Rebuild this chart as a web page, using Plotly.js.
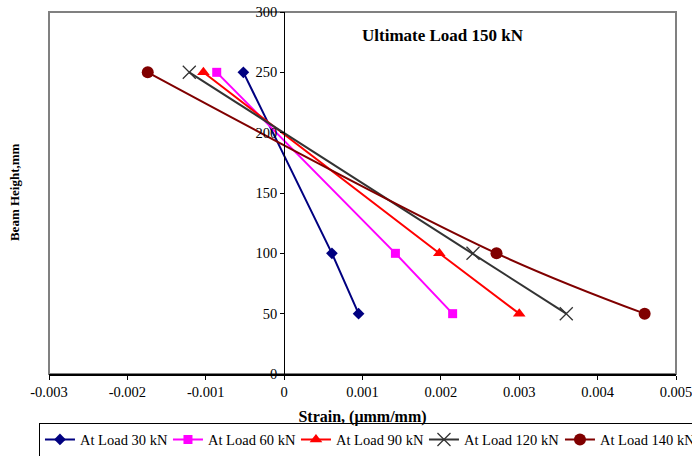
<!DOCTYPE html>
<html>
<head>
<meta charset="utf-8">
<script src="https://cdn.plot.ly/plotly-3.0.1.min.js"></script>
<style>
  html, body { margin: 0; padding: 0; background: #ffffff; }
  #chart { width: 692px; height: 456px; }
</style>
</head>
<body>
<div id="chart"></div>
<script>
// Measured beam heights (mm) at the three strain gauge levels
const beamHeights = [250, 100, 50];

// Strain readings (mm/mm) at each load stage
const strain30 = [-0.00052, 0.00061, 0.00095];
const strain60 = [-0.00086, 0.00142, 0.00215];
const strain90 = [-0.00103, 0.00198, 0.00300];
const strain120 = [-0.00121, 0.00241, 0.00360];
const strain140 = [-0.00174, 0.00271, 0.00460];

const seriesNames = ['At Load 30 kN', 'At Load 60 kN', 'At Load 90 kN', 'At Load 120 kN', 'At Load 140 kN'];

// Axis ticks
const xTickVals = [-0.003, -0.002, -0.001, 0, 0.001, 0.002, 0.003, 0.004, 0.005];
const xTickText = ['-0.003', '-0.002', '-0.001', '0', '0.001', '0.002', '0.003', '0.004', '0.005'];
const yTickVals = [0, 50, 100, 150, 200, 250, 300];

const serif = 'Liberation Serif, Times New Roman, serif';

function series(x, name, color, symbol, size, legendWidth, extraLine, extraMarker) {
  const t = {
    type: 'scatter',
    mode: 'lines+markers',
    x: x,
    y: beamHeights,
    name: name,
    line: Object.assign({ color: color, width: 2 }, extraLine || {}),
    marker: Object.assign({ color: color, symbol: symbol, size: size }, extraMarker || {}),
    cliponaxis: false
  };
  if (legendWidth) t.legendwidth = legendWidth;
  return t;
}

const traces = [
  series(strain30, seriesNames[0], '#000080', 'diamond', 9),
  series(strain60, seriesNames[1], '#FF00FF', 'square', 9),
  series(strain90, seriesNames[2], '#FF0000', 'triangle-up', 11),
  series(strain120, seriesNames[3], '#333333', 'x-thin-open', 13, 91, null,
         { line: { color: '#333333', width: 1.3 } }),
  series(strain140, seriesNames[4], '#800000', 'circle', 12, 89,
         { shape: 'spline', smoothing: 1 })
];

// x = 0 sits at this fraction of the plot width
const xMin = -0.003, xMax = 0.005;
const yAxisPos = (0 - xMin) / (xMax - xMin);

const layout = {
  width: 692,
  height: 456,
  margin: { l: 49, r: 16, t: 12, b: 82, autoexpand: false },
  paper_bgcolor: '#ffffff',
  plot_bgcolor: '#ffffff',
  font: { family: serif, size: 14.5, color: '#000000' },
  showlegend: true,
  xaxis: {
    range: [xMin, xMax],
    tickvals: xTickVals,
    ticktext: xTickText,
    showgrid: false,
    zeroline: false,
    showline: true,
    linecolor: '#000000',
    linewidth: 1.5,
    ticks: 'outside',
    ticklen: 4,
    tickcolor: '#000000',
    tickfont: { family: serif, size: 14.5 },
    ticklabeloverflow: 'allow',
    automargin: false,
    title: {
      text: '<b>Strain, (μmm/mm)</b>',
      font: { family: serif, size: 16 },
      standoff: 12
    }
  },
  yaxis: {
    range: [0, 300],
    tickvals: yTickVals,
    showgrid: false,
    zeroline: false,
    showline: true,
    linecolor: '#000000',
    linewidth: 1.2,
    ticks: 'outside',
    ticklen: 4,
    tickcolor: '#000000',
    tickfont: { family: serif, size: 14.5 },
    anchor: 'free',
    position: yAxisPos,
    automargin: false
  },
  shapes: [
    {
      type: 'rect', xref: 'paper', yref: 'paper',
      x0: 0, x1: 1, y0: 0, y1: 1,
      line: { color: '#808080', width: 2 },
      layer: 'below'
    }
  ],
  annotations: [
    {
      text: '<b>Ultimate Load 150 kN</b>',
      xref: 'paper', yref: 'paper',
      x: 0.628, y: 0.934,
      xanchor: 'center', yanchor: 'middle',
      showarrow: false,
      font: { family: serif, size: 17 }
    },
    {
      text: '<b>Beam Height,mm</b>',
      xref: 'paper', yref: 'paper',
      x: -0.054, y: 0.503,
      xanchor: 'center', yanchor: 'middle',
      textangle: -90,
      showarrow: false,
      font: { family: serif, size: 13 }
    }
  ],
  legend: {
    orientation: 'h',
    x: -0.016, y: -0.134,
    xanchor: 'left', yanchor: 'top',
    bgcolor: '#ffffff',
    bordercolor: '#000000',
    borderwidth: 1,
    font: { family: serif, size: 14.5 },
    itemwidth: 30,
    entrywidth: 83,
    entrywidthmode: 'pixels',
    tracegroupgap: 0
  }
};

Plotly.newPlot('chart', traces, layout, { displayModeBar: false, staticPlot: true });
</script>
</body>
</html>
